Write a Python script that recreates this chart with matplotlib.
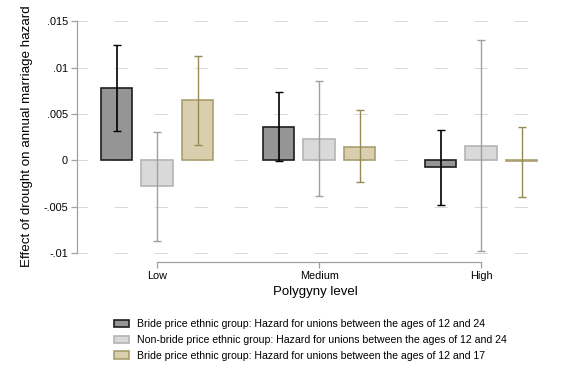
import matplotlib
matplotlib.use("Agg")
import matplotlib.pyplot as plt
import numpy as np

plt.rcParams['font.family'] = ['Liberation Sans', 'DejaVu Sans']
plt.rcParams['lines.scale_dashes'] = False

categories = ["Low", "Medium", "High"]
series_labels = [
    "Bride price ethnic group: Hazard for unions between the ages of 12 and 24",
    "Non-bride price ethnic group: Hazard for unions between the ages of 12 and 24",
    "Bride price ethnic group: Hazard for unions between the ages of 12 and 17",
]
values = [
    [0.00776, 0.00355, -0.00072],
    [-0.00277, 0.00226, 0.00151],
    [0.00650, 0.00143, -0.00010],
]
ci_low = [
    [0.00312, -0.00010, -0.00485],
    [-0.00873, -0.00388, -0.00980],
    [0.00168, -0.00237, -0.00399],
]
ci_high = [
    [0.01239, 0.00733, 0.00323],
    [0.00302, 0.00850, 0.01293],
    [0.01121, 0.00539, 0.00356],
]
yticks = [-0.01, -0.005, 0, 0.005, 0.01, 0.015]
ytick_labels = ["-.01", "-.005", "0", ".005", ".01", ".015"]

fills = ["#959595", "#d9d9d9", "#d9cfae"]
edges = ["#1e1e1e", "#b4b4b4", "#aa9e70"]
ecolors = ["#000000", "#a0a0a0", "#968a55"]

fig = plt.figure(figsize=(5.76, 3.84), dpi=100)
ax = fig.add_axes([77/576, 122/384, 477/576, (262-16.5)/384])

x = np.arange(1, len(categories) + 1)
offsets = [-0.25, 0.0, 0.25]
width = 0.195

for yv in yticks:
    ax.axhline(yv, color="#d8d8d8", lw=0.7, linestyle=(2, (9.4, 19.4)), zorder=0)

handles = []
for i in range(3):
    pos = x + offsets[i]
    v = np.array(values[i])
    b = ax.bar(pos, v, width=width, color=fills[i], edgecolor=edges[i], linewidth=1.2, zorder=2,
               label=series_labels[i])
    handles.append(b)
    lo = v - np.array(ci_low[i])
    hi = np.array(ci_high[i]) - v
    ax.errorbar(pos, v, yerr=[lo, hi], fmt="none", ecolor=ecolors[i],
                elinewidth=1.2 if i == 0 else 1.0, capsize=3, capthick=1.0, zorder=3)

ax.set_xlim(0.506, 3.45)
ax.set_ylim(-0.01097, 0.0155)

for s in ["top", "right"]:
    ax.spines[s].set_visible(False)
ax.spines["left"].set_bounds(-0.01, 0.015)
ax.spines["bottom"].set_bounds(1, 3)
for s in ["left", "bottom"]:
    ax.spines[s].set_color("#a0a0a0")
    ax.spines[s].set_linewidth(0.9)

ax.set_yticks(yticks)
ax.set_yticklabels(ytick_labels)
ax.set_xticks(x)
ax.set_xticklabels(categories)
ax.tick_params(axis="both", colors="#a0a0a0", labelcolor="#000000", labelsize=7.8,
               length=4.5, width=0.9, pad=2)

ax.set_ylabel("Effect of drought on annual marriage hazard", fontsize=9.6)
ax.yaxis.set_label_coords(-44/477, (262-136)/245.5)
ax.set_xlabel("Polygyny level", fontsize=9.5, labelpad=3.5)

leg = fig.legend(handles=handles, labels=series_labels, loc="upper left",
                 bbox_to_anchor=(110/576, 1 - 315/384), frameon=False, fontsize=7.55,
                 handlelength=1.45, handleheight=0.7, handletextpad=0.75, labelspacing=0.55,
                 borderaxespad=0)

fig.savefig("out.png", dpi=100)
